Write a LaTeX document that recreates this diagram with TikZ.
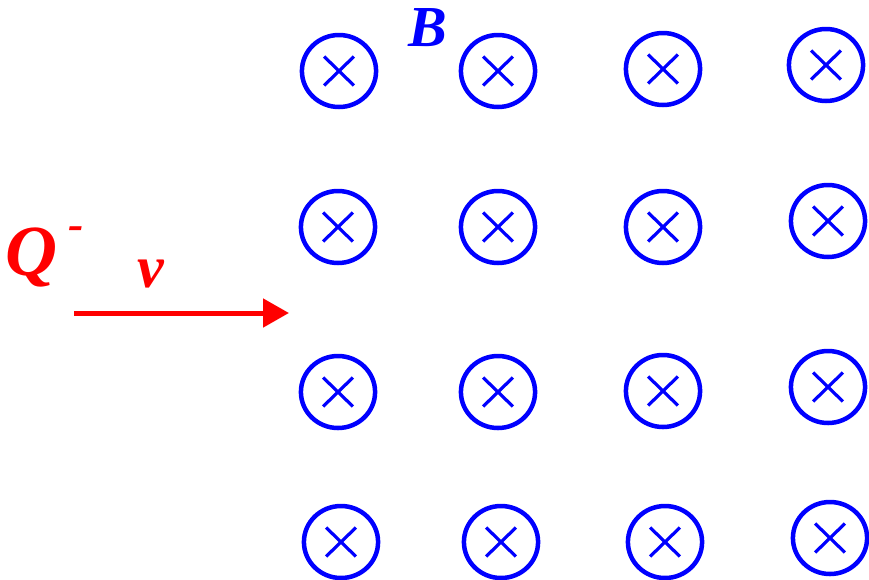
\documentclass[tikz,border=0pt]{standalone}
\usepackage{fontspec}
\setmainfont{Liberation Serif}
\usetikzlibrary{arrows.meta}
\definecolor{fieldblue}{RGB}{0,0,255}
\definecolor{chargered}{RGB}{255,0,0}
\tikzset{
  fieldpt/.style={circle, draw=fieldblue, line width=4.5pt, minimum size=72pt, inner sep=0pt, xscale=1.03,
    path picture={
      \draw[fieldblue, line width=3.2pt]
        ([shift={(-14.5pt,-14.5pt)}]path picture bounding box.center) -- ([shift={(14.5pt,14.5pt)}]path picture bounding box.center)
        ([shift={(-14.5pt,14.5pt)}]path picture bounding box.center) -- ([shift={(14.5pt,-14.5pt)}]path picture bounding box.center);
    }},
  lbl/.style={inner sep=0pt, anchor=base west, font=\bfseries\itshape}
}
\begin{document}
\begin{tikzpicture}[x=1pt,y=-1pt]
\useasboundingbox (0,0) rectangle (869,579);
% field points
\node[fieldpt] (c11) at (339,71) {};
\node[fieldpt] (c12) at (498,71) {};
\node[fieldpt] (c13) at (663,69) {};
\node[fieldpt] (c14) at (826,65) {};
\node[fieldpt] (c21) at (338,227) {};
\node[fieldpt] (c22) at (498,227) {};
\node[fieldpt] (c23) at (663,227) {};
\node[fieldpt] (c24) at (828,221) {};
\node[fieldpt] (c31) at (338,392) {};
\node[fieldpt] (c32) at (498,392) {};
\node[fieldpt] (c33) at (663,391) {};
\node[fieldpt] (c34) at (828,387) {};
\node[fieldpt] (c41) at (341,542) {};
\node[fieldpt] (c42) at (501,542) {};
\node[fieldpt] (c43) at (665,542) {};
\node[fieldpt] (c44) at (830,538) {};
% labels
\node[lbl, text=fieldblue, font=\fontsize{58}{58}\selectfont\bfseries\itshape] (B) at (408,46) {B};
\node[lbl, text=chargered, font=\fontsize{72}{72}\selectfont\bfseries\itshape] (Q) at (5,275) {Q\hspace{11pt}\raisebox{36pt}{\fontsize{46}{46}\selectfont -}};
\node[lbl, text=chargered, font=\fontsize{60}{60}\selectfont\bfseries\itshape] (v) at (137,287) {v};
% velocity arrow
\coordinate (vs) at (74,313);
\coordinate (ve) at (289,313);
\draw[chargered, line width=5pt, -{Triangle[length=26pt,width=28pt]}] (vs) -- (ve);
\end{tikzpicture}
\end{document}
